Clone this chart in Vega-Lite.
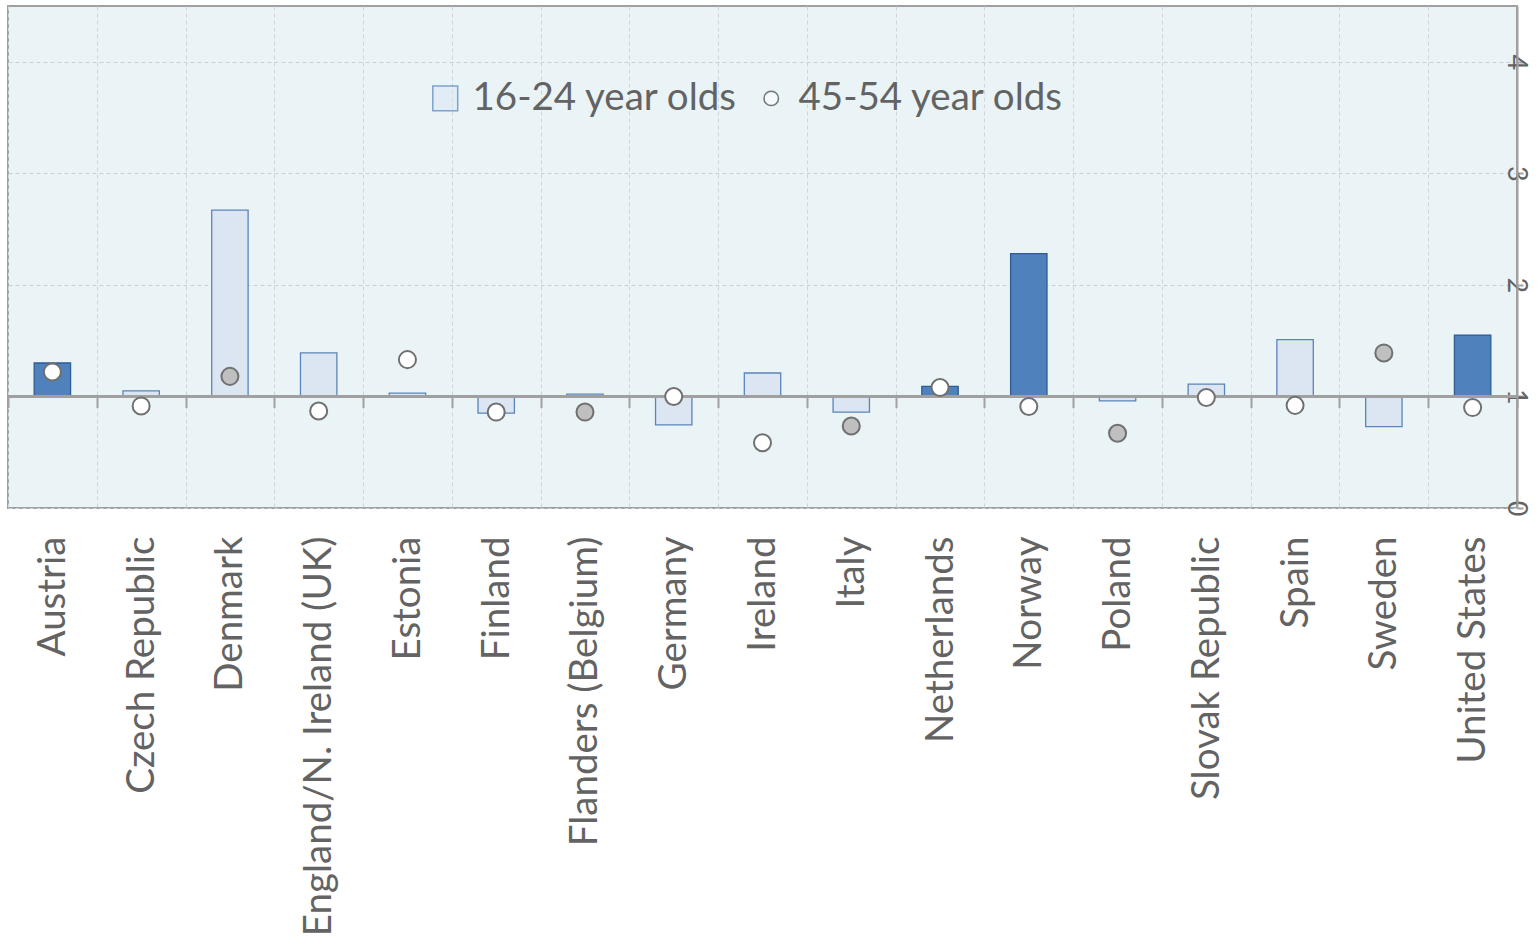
{
  "$schema": "https://vega.github.io/schema/vega-lite/v6.json",
  "width": 1509,
  "height": 502,
  "autosize": {"type": "none"},
  "padding": {"left": 8, "top": 6, "right": 20, "bottom": 438},
  "background": "white",
  "view": {"fill": "#EAF4F7", "stroke": "#A0A0A0", "strokeWidth": 2},
  "config": {
    "font": "Lato"
  },
  "datasets": {
    "main": [
      {"country": "Austria", "young": 1.30, "young_sig": "sig", "older": 1.22, "older_sig": "ns"},
      {"country": "Czech Republic", "young": 1.05, "young_sig": "ns", "older": 0.915, "older_sig": "ns"},
      {"country": "Denmark", "young": 2.67, "young_sig": "ns", "older": 1.18, "older_sig": "sig"},
      {"country": "England/N. Ireland (UK)", "young": 1.39, "young_sig": "ns", "older": 0.87, "older_sig": "ns"},
      {"country": "Estonia", "young": 1.03, "young_sig": "ns", "older": 1.33, "older_sig": "ns"},
      {"country": "Finland", "young": 0.85, "young_sig": "ns", "older": 0.86, "older_sig": "ns"},
      {"country": "Flanders (Belgium)", "young": 1.02, "young_sig": "ns", "older": 0.86, "older_sig": "sig"},
      {"country": "Germany", "young": 0.745, "young_sig": "ns", "older": 1.0, "older_sig": "ns"},
      {"country": "Ireland", "young": 1.21, "young_sig": "ns", "older": 0.585, "older_sig": "ns"},
      {"country": "Italy", "young": 0.86, "young_sig": "ns", "older": 0.735, "older_sig": "sig"},
      {"country": "Netherlands", "young": 1.09, "young_sig": "sig", "older": 1.08, "older_sig": "ns"},
      {"country": "Norway", "young": 2.28, "young_sig": "sig", "older": 0.91, "older_sig": "ns"},
      {"country": "Poland", "young": 0.96, "young_sig": "ns", "older": 0.67, "older_sig": "sig"},
      {"country": "Slovak Republic", "young": 1.11, "young_sig": "ns", "older": 0.99, "older_sig": "ns"},
      {"country": "Spain", "young": 1.51, "young_sig": "ns", "older": 0.92, "older_sig": "ns"},
      {"country": "Sweden", "young": 0.73, "young_sig": "ns", "older": 1.39, "older_sig": "sig"},
      {"country": "United States", "young": 1.55, "young_sig": "sig", "older": 0.90, "older_sig": "ns"}
    ],
    "legendrows": [
      {"series": "16-24 year olds"},
      {"series": "45-54 year olds"}
    ]
  },
  "resolve": {
    "axis": {"x": "independent"},
    "scale": {"fill": "independent", "stroke": "independent", "shape": "independent", "size": "independent"},
    "legend": {"fill": "independent", "stroke": "independent", "shape": "independent", "size": "independent"}
  },
  "layer": [
    {
      "data": {"name": "main"},
      "mark": {"type": "bar", "strokeWidth": 1.3, "width": {"band": 0.41}},
      "encoding": {
        "x": {
          "field": "country", "type": "nominal", "sort": null,
          "scale": {"paddingInner": 0, "paddingOuter": 0},
          "axis": {
            "orient": "bottom", "title": null, "labelAngle": -90, "labelFontSize": 38.5,
            "labelColor": "#636363", "labelPadding": 28, "ticks": false, "domain": false,
            "grid": true, "gridColor": "#CDD5DA", "gridDash": [4, 3], "gridWidth": 1,
            "tickBand": "extent", "labelLimit": 600
          }
        },
        "y": {
          "field": "young", "type": "quantitative",
          "scale": {"domain": [0, 4.5], "nice": false, "zero": false},
          "axis": {
            "orient": "right", "title": null, "values": [0, 1, 2, 3, 4], "format": "d", "labelAngle": 90,
            "labelFontSize": 27, "labelColor": "#636363", "labelPadding": -8,
            "domainColor": "#A0A0A0", "domainWidth": 2, "tickColor": "#A0A0A0", "tickWidth": 2, "tickSize": 6,
            "grid": true, "gridColor": "#C8D0D6", "gridDash": [4, 3], "gridWidth": 1,
            "labelAlign": "center", "labelBaseline": "middle"
          }
        },
        "y2": {"datum": 1},
        "fill": {
          "field": "young_sig", "type": "nominal",
          "scale": {"domain": ["sig", "ns"], "range": ["#4F81BD", "#DCE6F2"]},
          "legend": null
        },
        "stroke": {
          "field": "young_sig", "type": "nominal",
          "scale": {"domain": ["sig", "ns"], "range": ["#2E5C93", "#5B84B8"]},
          "legend": null
        }
      }
    },
    {
      "data": {"name": "main"},
      "mark": {"type": "rule", "color": "#A0A0A0", "strokeWidth": 3},
      "encoding": {
        "y": {"datum": 1, "type": "quantitative"}
      }
    },
    {
      "data": {"name": "main"},
      "mark": {"type": "point", "filled": true, "size": 290, "strokeWidth": 2, "stroke": "#707070", "opacity": 1},
      "encoding": {
        "x": {
          "field": "country", "type": "nominal", "sort": null,
          "axis": {
            "orient": "top", "title": null, "labels": false, "domain": false, "grid": false,
            "ticks": true, "tickBand": "extent", "tickSize": -11, "tickColor": "#A0A0A0",
            "tickWidth": 2, "offset": -390.4
          }
        },
        "y": {"field": "older", "type": "quantitative"},
        "fill": {
          "field": "older_sig", "type": "nominal",
          "scale": {"domain": ["sig", "ns"], "range": ["#BFBFBF", "#FFFFFF"]},
          "legend": null
        }
      }
    },
    {
      "data": {"name": "legendrows"},
      "transform": [{"filter": "datum.series == 'none'"}],
      "mark": {"type": "point", "filled": true},
      "encoding": {
        "shape": {
          "field": "series", "type": "nominal",
          "scale": {"domain": ["16-24 year olds", "45-54 year olds"], "range": ["square", "circle"]},
          "legend": {
            "title": null, "orient": "none", "legendX": 418, "legendY": 73, "direction": "horizontal",
            "labelFontSize": 38.5, "labelColor": "#636363", "columnPadding": 14, "labelOffset": 8,
            "symbolStrokeWidth": 1.5, "labelLimit": 500
          }
        },
        "fill": {
          "field": "series", "type": "nominal",
          "scale": {"domain": ["16-24 year olds", "45-54 year olds"], "range": ["#DCE6F2", "#FFFFFF"]}
        },
        "stroke": {
          "field": "series", "type": "nominal",
          "scale": {"domain": ["16-24 year olds", "45-54 year olds"], "range": ["#4F81BD", "#404040"]}
        },
        "size": {
          "field": "series", "type": "nominal",
          "scale": {"domain": ["16-24 year olds", "45-54 year olds"], "range": [620, 210]}
        }
      }
    }
  ]
}
